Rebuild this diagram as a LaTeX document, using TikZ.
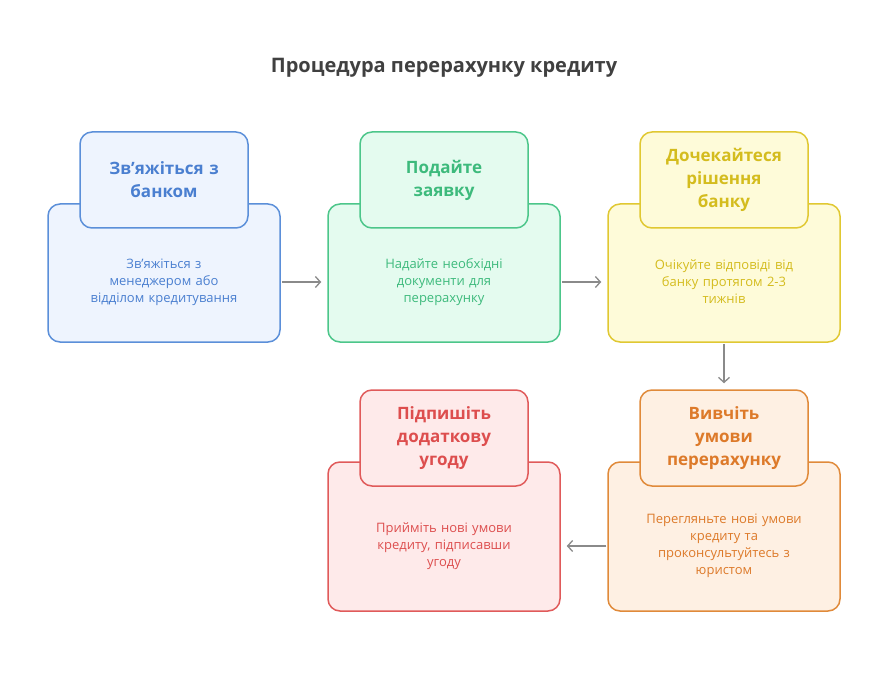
\documentclass[tikz,border=0pt]{standalone}
\usepackage{fontspec}
\setmainfont{Open Sans}
\usetikzlibrary{arrows.meta}
\definecolor{blueS}{HTML}{5B8FD9}\definecolor{blueF}{HTML}{EEF4FE}\definecolor{blueT}{HTML}{4A7FD0}
\definecolor{greenS}{HTML}{4CC68A}\definecolor{greenF}{HTML}{E4FBEF}\definecolor{greenT}{HTML}{3DBA7C}
\definecolor{yelS}{HTML}{E0C832}\definecolor{yelF}{HTML}{FEFBD9}\definecolor{yelT}{HTML}{D4BC1E}
\definecolor{oraS}{HTML}{E08A3A}\definecolor{oraF}{HTML}{FEF0E3}\definecolor{oraT}{HTML}{DD7A2A}
\definecolor{redS}{HTML}{E05A5A}\definecolor{redF}{HTML}{FEEAEA}\definecolor{redT}{HTML}{DD4E4E}
\definecolor{arrowG}{HTML}{8A8A8A}
\tikzset{
  bigbox/.style={draw=#1S, fill=#1F, line width=1.5pt, rounded corners=12pt, minimum width=232pt, minimum height=138pt},
  headbox/.style={draw=#1S, fill=#1F, line width=1.5pt, rounded corners=12pt, minimum width=168pt, minimum height=96pt, font=\bfseries\fontsize{17}{23}\selectfont, text=#1T, align=center, text width=150pt},
  bodytext/.style={text=#1T, align=center, text width=160pt, font=\fontsize{13}{17}\selectfont},
  flow/.style={draw=arrowG, line width=1.3pt, -{Straight Barb[length=5pt,width=11pt]}, shorten <=1pt, shorten >=6pt}
}
\begin{document}
\begin{tikzpicture}[x=1pt, y=-1pt]
	\useasboundingbox (0,0) rectangle (888,684);
	% Title
	\node[font=\bfseries\fontsize{20}{24}\selectfont, text=black!75] (title) at (444,68) {Процедура перерахунку кредиту};

	% Row 1
	\node[bigbox=blue] (b1) at (164,273) {};
	\node[headbox=blue] (h1) at (164,180) {Зв'яжіться з\\банком};
	\node[bodytext=blue] (t1) at (164,282) {Зв'яжіться з\\менеджером або\\відділом кредитування};

	\node[bigbox=green] (b2) at (444,273) {};
	\node[headbox=green] (h2) at (444,180) {Подайте\\заявку};
	\node[bodytext=green] (t2) at (444,282) {Надайте необхідні\\документи для\\перерахунку};

	\node[bigbox=yel] (b3) at (724,273) {};
	\node[headbox=yel] (h3) at (724,180) {Дочекайтеся\\рішення\\банку};
	\node[bodytext=yel] (t3) at (724,282) {Очікуйте відповіді від\\банку протягом 2-3\\тижнів};

	% Row 2
	\node[bigbox=ora, minimum height=149pt] (b4) at (724,536.5) {};
	\node[headbox=ora] (h4) at (724,438) {Вивчіть\\умови\\перерахунку};
	\node[bodytext=ora] (t4) at (724,546) {Перегляньте нові умови\\кредиту та\\проконсультуйтесь з\\юристом};

	\node[bigbox=red, minimum height=149pt] (b5) at (444,536.5) {};
	\node[headbox=red] (h5) at (444,438) {Підпишіть\\додаткову\\угоду};
	\node[bodytext=red] (t5) at (444,546) {Прийміть нові умови\\кредиту, підписавши\\угоду};

	% Arrows
	\draw[flow] (b1.east |- t1) -- (b2.west |- t2);
	\draw[flow] (b2.east |- t2) -- (b3.west |- t3);
	\draw[flow] (b3.south) -- (h4.north);
	\draw[flow] (b4.west |- t4) -- (b5.east |- t5);
\end{tikzpicture}
\end{document}
